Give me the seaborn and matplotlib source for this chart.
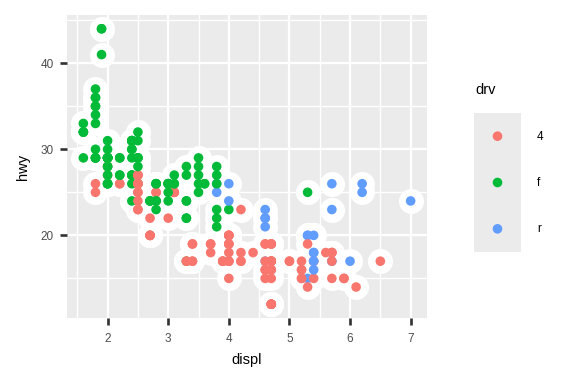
import matplotlib
matplotlib.use("Agg")
import matplotlib.pyplot as plt
import seaborn as sns
import pandas as pd
from matplotlib.ticker import MultipleLocator

plt.rcParams['font.family'] = ['Liberation Sans', 'DejaVu Sans']

# mpg data, in dataset order (audi, chevrolet, dodge, ford, honda, hyundai, jeep,
# land rover, lincoln, mercury, nissan, pontiac, subaru, toyota, volkswagen)
displ = [
    1.8, 1.8, 2.0, 2.0, 2.8, 2.8, 3.1, 1.8, 1.8, 2.0, 2.0, 2.8, 2.8, 3.1, 3.1, 2.8, 3.1, 4.2,
    5.3, 5.3, 5.3, 5.7, 6.0, 5.7, 5.7, 6.2, 6.2, 7.0, 5.3, 5.3, 5.7, 6.5, 2.4, 2.4, 3.1, 3.5, 3.6,
    2.4, 3.0, 3.3, 3.3, 3.3, 3.3, 3.3, 3.8, 3.8, 3.8, 4.0, 3.7, 3.7, 3.9, 3.9, 4.7, 4.7, 4.7, 5.2, 5.2,
    3.9, 4.7, 4.7, 4.7, 5.2, 5.7, 5.9, 4.7, 4.7, 4.7, 4.7, 4.7, 4.7, 5.2, 5.2, 5.7, 5.9,
    4.6, 5.4, 5.4, 4.0, 4.0, 4.0, 4.0, 4.6, 5.0, 4.2, 4.2, 4.6, 4.6, 4.6, 5.4, 5.4,
    3.8, 3.8, 4.0, 4.0, 4.6, 4.6, 4.6, 4.6, 5.4,
    1.6, 1.6, 1.6, 1.6, 1.6, 1.8, 1.8, 1.8, 2.0,
    2.4, 2.4, 2.4, 2.4, 2.5, 2.5, 3.3, 2.0, 2.0, 2.0, 2.0, 2.7, 2.7, 2.7,
    3.0, 3.7, 4.0, 4.7, 4.7, 4.7, 5.7, 6.1,
    4.0, 4.2, 4.4, 4.6,
    5.4, 5.4, 5.4,
    4.0, 4.0, 4.6, 5.0,
    2.4, 2.4, 2.5, 2.5, 3.5, 3.5, 3.0, 3.0, 3.5, 3.3, 3.3, 4.0, 5.6,
    3.1, 3.8, 3.8, 3.8, 5.3,
    2.5, 2.5, 2.5, 2.5, 2.5, 2.5, 2.2, 2.2, 2.5, 2.5, 2.5, 2.5, 2.5, 2.5,
    2.7, 2.7, 3.4, 3.4, 4.0, 4.7, 2.2, 2.2, 2.4, 2.4, 3.0, 3.0, 3.5,
    2.2, 2.2, 2.4, 2.4, 3.0, 3.0, 3.3, 1.8, 1.8, 1.8, 1.8, 1.8, 4.7, 5.7,
    2.7, 2.7, 2.7, 3.4, 3.4, 4.0, 4.0,
    2.0, 2.0, 2.0, 2.0, 2.8, 1.9, 2.0, 2.0, 2.0, 2.0, 2.5, 2.5, 2.8, 2.8,
    1.9, 1.9, 2.0, 2.0, 2.5, 2.5, 1.8, 1.8, 2.0, 2.0, 2.8, 2.8, 3.6,
]
hwy = [
    29, 29, 31, 30, 26, 26, 27, 26, 25, 28, 27, 25, 25, 25, 25, 24, 25, 23,
    20, 15, 20, 17, 17, 26, 23, 26, 25, 24, 19, 14, 15, 17, 27, 30, 26, 29, 26,
    24, 24, 22, 22, 24, 24, 17, 22, 21, 23, 23, 19, 18, 17, 17, 19, 19, 12, 17, 15,
    17, 17, 12, 17, 16, 18, 15, 16, 12, 17, 17, 16, 12, 15, 16, 17, 15,
    17, 17, 18, 17, 19, 17, 19, 19, 17, 17, 17, 16, 16, 17, 15, 17,
    26, 25, 26, 24, 21, 22, 23, 22, 20,
    33, 32, 32, 29, 32, 34, 36, 36, 29,
    26, 27, 30, 31, 26, 26, 28, 26, 29, 28, 27, 24, 24, 24,
    22, 19, 20, 17, 12, 19, 18, 14,
    15, 18, 18, 15,
    17, 16, 18,
    17, 19, 19, 17,
    29, 27, 31, 32, 27, 26, 26, 25, 25, 17, 17, 20, 18,
    26, 26, 27, 28, 25,
    25, 24, 27, 25, 26, 23, 26, 26, 26, 26, 27, 23, 27, 26,
    20, 20, 19, 17, 20, 17, 29, 27, 31, 31, 26, 26, 28,
    27, 29, 31, 31, 26, 26, 27, 30, 33, 35, 37, 35, 15, 18,
    20, 20, 22, 17, 19, 18, 20,
    29, 26, 29, 29, 24, 44, 29, 26, 29, 29, 29, 29, 23, 24,
    44, 41, 29, 26, 28, 29, 29, 29, 29, 28, 26, 26, 26,
]
drv = [
    "f", "f", "f", "f", "f", "f", "f", "4", "4", "4", "4", "4", "4", "4", "4", "4", "4", "4",
    "r", "r", "r", "r", "r", "r", "r", "r", "r", "r", "4", "4", "4", "4", "f", "f", "f", "f", "f",
    "f", "f", "f", "f", "f", "f", "f", "f", "f", "f", "f", "4", "4", "4", "4", "4", "4", "4", "4", "4",
    "4", "4", "4", "4", "4", "4", "4", "4", "4", "4", "4", "4", "4", "4", "4", "4", "4",
    "r", "r", "r", "4", "4", "4", "4", "4", "4", "4", "4", "4", "4", "4", "4", "4",
    "r", "r", "r", "r", "r", "r", "r", "r", "r",
    "f", "f", "f", "f", "f", "f", "f", "f", "f",
    "f", "f", "f", "f", "f", "f", "f", "f", "f", "f", "f", "f", "f", "f",
    "4", "4", "4", "4", "4", "4", "4", "4",
    "4", "4", "4", "4",
    "r", "r", "r",
    "4", "4", "4", "4",
    "f", "f", "f", "f", "f", "f", "f", "f", "f", "4", "4", "4", "4",
    "f", "f", "f", "f", "f",
    "4", "4", "4", "4", "4", "4", "4", "4", "4", "4", "4", "4", "4", "4",
    "4", "4", "4", "4", "4", "4", "f", "f", "f", "f", "f", "f", "f",
    "f", "f", "f", "f", "f", "f", "f", "f", "f", "f", "f", "f", "4", "4",
    "4", "4", "4", "4", "4", "4", "4",
    "f", "f", "f", "f", "f", "f", "f", "f", "f", "f", "f", "f", "f", "f",
    "f", "f", "f", "f", "f", "f", "f", "f", "f", "f", "f", "f", "f",
]
drv_levels = ["4", "f", "r"]
drv_colors = ["#F8766D", "#00BA38", "#619CFF"]

df = pd.DataFrame({"displ": displ, "hwy": hwy, "drv": drv})
palette = dict(zip(drv_levels, drv_colors))

W, H = 576, 384
fig = plt.figure(figsize=(6, 4), dpi=96)
ax = fig.add_axes([67 / W, 1 - 318 / H, 360 / W, 303 / H])
ax.set_facecolor("#EBEBEB")

sns.scatterplot(data=df, x="displ", y="hwy", color="white", s=352,
                linewidth=0, legend=False, ax=ax, zorder=3)
sns.scatterplot(data=df, x="displ", y="hwy", hue="drv", hue_order=drv_levels,
                palette=palette, s=52, linewidth=0, legend=False, ax=ax, zorder=4)

ax.set_xlim(1.33, 7.27)
ax.set_ylim(10.4, 45.6)
ax.xaxis.set_major_locator(MultipleLocator(1))
ax.xaxis.set_minor_locator(MultipleLocator(0.5))
ax.yaxis.set_major_locator(MultipleLocator(10))
ax.yaxis.set_minor_locator(MultipleLocator(5))
ax.grid(which="major", color="white", linewidth=1.7, zorder=0)
ax.grid(which="minor", color="white", linewidth=1.0, zorder=0)
ax.set_axisbelow(True)
for sp in ax.spines.values():
    sp.set_visible(False)
ax.tick_params(which="major", length=5.6, width=2.0, color="#333333",
               labelsize=8.8, labelcolor="#4D4D4D")
ax.tick_params(axis="x", which="major", pad=6)
ax.tick_params(axis="y", which="major", pad=4.5)
ax.tick_params(which="minor", length=0)
ax.set_xlabel("displ", fontsize=11, color="black", labelpad=6)
ax.set_ylabel("hwy", fontsize=11, color="black", labelpad=8)

# legend
lax = fig.add_axes([474 / W, 1 - 252 / H, 47 / W, 139 / H])
lax.set_facecolor("#EBEBEB")
leg_df = pd.DataFrame({"x": [0, 0, 0], "y": [0, 1, 2], "drv": drv_levels})
sns.scatterplot(data=leg_df, x="x", y="y", hue="drv", hue_order=drv_levels,
                palette=palette, s=52, linewidth=0, legend=False, ax=lax)
lax.set_xlim(-1, 1)
lax.set_ylim(2.5, -0.5)
lax.set_xticks([])
lax.set_yticks([])
lax.set_xlabel("")
lax.set_ylabel("")
for sp in lax.spines.values():
    sp.set_visible(False)
for i, lab in enumerate(drv_levels):
    fig.text(537 / W, 1 - (137 + 46 * i) / H, lab, fontsize=8.8, color="black",
             ha="left", va="center")
fig.text(475 / W, 1 - 90 / H, "drv", fontsize=11, color="black", ha="left", va="center")

fig.savefig("out.png", dpi=96)
